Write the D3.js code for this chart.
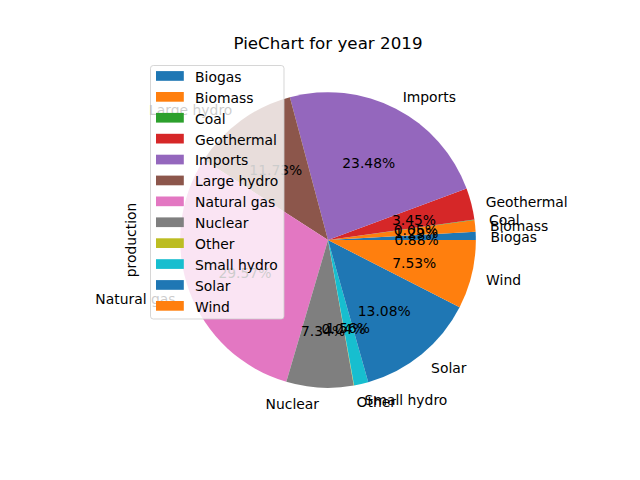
<!DOCTYPE html>
<html>
<head>
<meta charset="utf-8">
<script src="https://cdn.jsdelivr.net/npm/d3@7"></script>
<style>
  body { margin: 0; background: #fff; }
  svg text { font-family: "DejaVu Sans", sans-serif; }
</style>
</head>
<body>
<div id="chart"></div>
<script>
// production share per source, 2019 (percent)
var sources = ["Biogas", "Biomass", "Coal", "Geothermal", "Imports", "Large hydro",
               "Natural gas", "Nuclear", "Other", "Small hydro", "Solar", "Wind"];
var production = [0.88, 1.29, 0.05, 3.45, 23.48, 11.73, 29.57, 7.34, 0.04, 1.56, 13.08, 7.53];
var title = "PieChart for year 2019";
var ylabel = "production";

var W = 640, H = 480;
var svg = d3.select('#chart').append('svg')
    .attr('width', W).attr('height', H);

// axes box like matplotlib default subplot
var ax = { x0: 80, x1: 576, y0: 57.6, y1: 427.2 };
var cx = (ax.x0 + ax.x1) / 2, cy = (ax.y0 + ax.y1) / 2 - 2.4;
// pie limits are -1.25..1.25 with equal aspect
var s = d3.scaleLinear().domain([-1.25, 1.25]).range([0, 369.6]);
var R = s(1) - s(0);

var color = d3.scaleOrdinal().domain(sources).range(d3.schemeCategory10);

var data = sources.map(function (d, i) { return { name: d, value: production[i] } });
var total = d3.sum(production);

// counterclockwise from 3 o'clock
var pie = d3.pie().sort(null).value(function (d) { return d.value })
    .startAngle(Math.PI / 2).endAngle(Math.PI / 2 - 2 * Math.PI);
var arcs = pie(data);
var arc = d3.arc().innerRadius(0).outerRadius(R);

var g = svg.append('g').attr('transform', 'translate(' + cx + ',' + cy + ')');

g.selectAll('path')
    .data(arcs)
    .enter()
  .append('path')
    .attr('d', arc)
    .attr('fill', function (d) { return color(d.data.name) });

function mid(d) { return (d.startAngle + d.endAngle) / 2 }

// outer labels
g.selectAll('text.lab')
    .data(arcs)
    .enter()
  .append('text')
    .attr('class', 'lab')
    .attr('x', function (d) { return 1.1 * R * Math.sin(mid(d)) })
    .attr('y', function (d) { return -1.1 * R * Math.cos(mid(d)) })
    .attr('dy', '0.5em')
    .attr('text-anchor', function (d) { return Math.sin(mid(d)) > 0 ? 'start' : 'end' })
    .style('font-size', '13.9px')
    .text(function (d) { return d.data.name });

// percentages
g.selectAll('text.pct')
    .data(arcs)
    .enter()
  .append('text')
    .attr('class', 'pct')
    .attr('x', function (d) { return 0.6 * R * Math.sin(mid(d)) })
    .attr('y', function (d) { return -0.6 * R * Math.cos(mid(d)) })
    .attr('dy', '0.5em')
    .attr('text-anchor', 'middle')
    .style('font-size', '13.9px')
    .text(function (d) { return (d.value / total * 100).toFixed(2) + '%' });

// title
svg.append('text')
    .attr('x', cx).attr('y', 49)
    .attr('text-anchor', 'middle')
    .style('font-size', '16.7px')
    .text(title);

// y label
svg.append('text')
    .attr('transform', 'translate(136,' + cy + ') rotate(-90)')
    .attr('text-anchor', 'middle')
    .style('font-size', '13.9px')
    .text(ylabel);

// legend
var leg = svg.append('g');
leg.append('rect')
    .attr('x', 150.5).attr('y', 65.5)
    .attr('width', 133.5).attr('height', 253.5)
    .attr('rx', 2.8)
    .attr('fill', 'white').attr('fill-opacity', 0.8)
    .attr('stroke', '#ccc').attr('stroke-opacity', 0.8);

var rows = leg.selectAll('g.row')
    .data(sources)
    .enter()
  .append('g')
    .attr('transform', function (d, i) { return 'translate(0,' + (76 + i * 20.9) + ')' });

rows.append('rect')
    .attr('x', 156).attr('y', -4.9)
    .attr('width', 27.8).attr('height', 9.7)
    .attr('fill', function (d) { return color(d) });

rows.append('text')
    .attr('x', 195).attr('dy', '0.42em')
    .style('font-size', '13.9px')
    .text(function (d) { return d });
</script>
</body>
</html>
